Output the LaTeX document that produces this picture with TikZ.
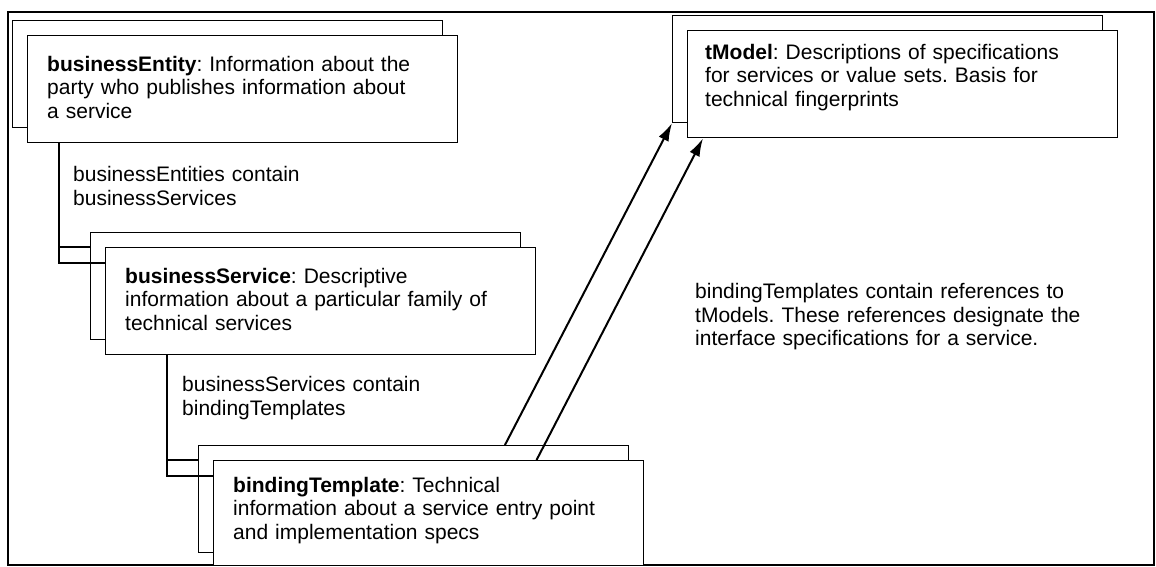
\documentclass[tikz,border=0pt]{standalone}
\usepackage{fontspec}
\setmainfont{Liberation Sans}
\usetikzlibrary{positioning, calc, arrows.meta}
\frenchspacing

\tikzset{
  backcard/.style={draw, line width=1.1pt, minimum width=430pt, minimum height=107pt, anchor=north west, inner sep=0pt},
  frontcard/.style={backcard, fill=white, line width=1.4pt},
  cardtext/.style={anchor=north west, inner sep=0pt, text width=425pt, align=left, font=\fontsize{21pt}{23.3pt}\selectfont},
  link/.style={line width=1.3pt},
  refarrow/.style={line width=2pt, -{Latex[length=18pt,width=11pt]}}
}

\begin{document}
\begin{tikzpicture}[x=1pt, y=-1pt]
  \useasboundingbox (0,0) rectangle (1156,567);
  \draw[line width=1.5pt] (8,12) rectangle (1154,565);

  % back cards
  \node[backcard] (entback) at (12,20) {};
  \node[backcard] (svcback) at (90,232) {};
  \node[backcard] (bindback) at (198,445) {};
  \node[backcard] (tmback) at (672,15) {};

  % front cards
  \node[frontcard, below right=15pt and 15pt of entback.north west] (ent) {};
  \node[frontcard, below right=15pt and 15pt of svcback.north west] (svc) {};
  \node[frontcard, minimum height=105pt, below right=15pt and 15pt of bindback.north west] (bind) {};
  \node[frontcard, below right=15pt and 15pt of tmback.north west] (tm) {};

  % containment links
  \coordinate (entfoot) at ([xshift=32pt]ent.south west);
  \draw[link] (entfoot) |- ([yshift=-16pt]svc.north west);
  \draw[link] (entfoot |- svc.north) -- (svcback.west |- svc.north);
  \coordinate (svcfoot) at ([xshift=62pt]svc.south west);
  \draw[link] (svcfoot) |- ([yshift=-16pt]bind.north west);
  \draw[link] (svcfoot |- bind.north) -- (bindback.west |- bind.north);

  % card texts
  \node[cardtext, below right=21pt and 20pt of ent.north west] (enttext)
    {\textbf{businessEntity}: Information about the\\party who publishes information about\\a service};
  \node[cardtext, below right=21pt and 20pt of svc.north west] (svctext)
    {\textbf{businessService}: Descriptive\\information about a particular family of\\technical services};
  \node[cardtext, below right=17pt and 20pt of bind.north west] (bindtext)
    {\textbf{bindingTemplate}: Technical\\information about a service entry point\\and implementation specs};
  \node[cardtext, below right=14pt and 18pt of tm.north west] (tmtext)
    {\textbf{tModel}: Descriptions of specifications\\for services or value sets. Basis for\\technical fingerprints};

  % link texts
  \node[cardtext, below right=23pt and 46pt of ent.south west] (entlink)
    {businessEntities contain\\businessServices};
  \node[cardtext, below right=21pt and 77pt of svc.south west] (svclink)
    {businessServices contain\\bindingTemplates};
  \node[cardtext, below right=145pt and 8pt of tm.south west] (tmlink)
    {bindingTemplates contain references to\\tModels. These references designate the\\interface specifications for a service.};

  % references to tModels
  \draw[refarrow] ($(bindback.north west)!0.712!(bindback.north east)$) -- (tmback.south west);
  \draw[refarrow] ($(bind.north west)!0.75!(bind.north east)$) -- ($(tm.south west)!0.037!(tm.south east)$);
\end{tikzpicture}
\end{document}
